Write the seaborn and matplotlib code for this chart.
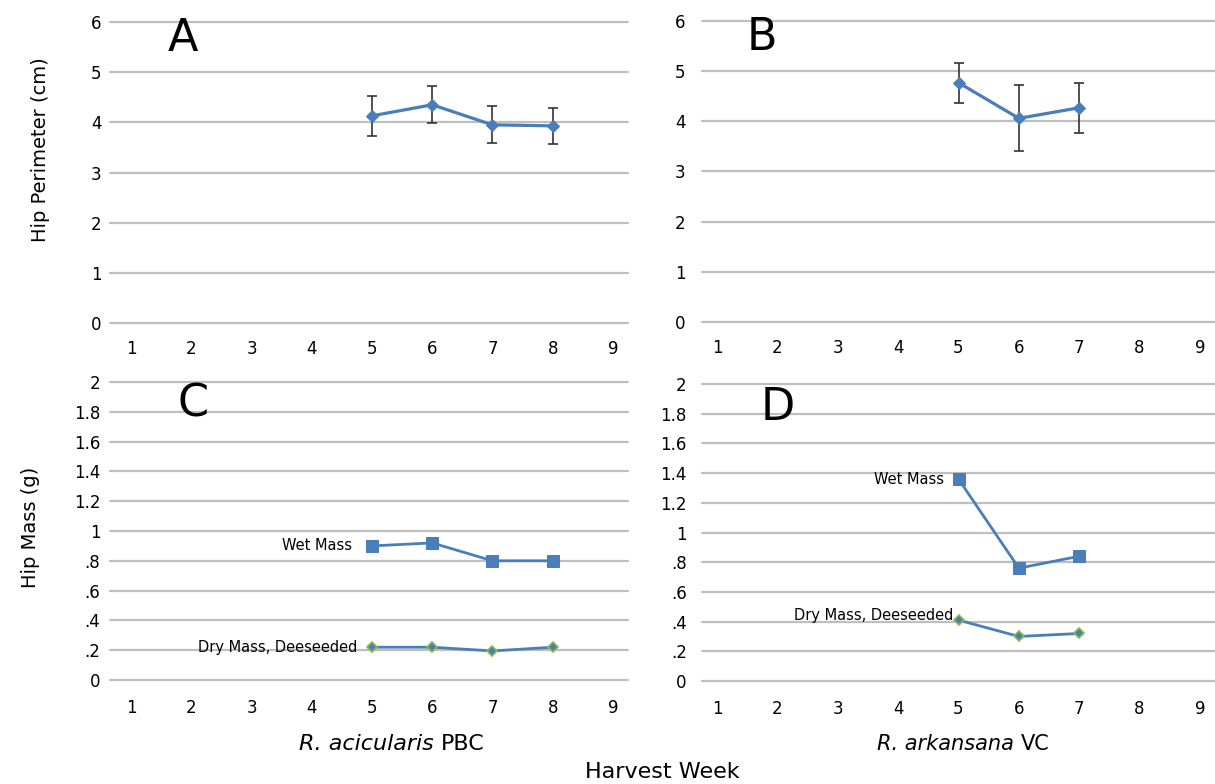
import matplotlib
matplotlib.use("Agg")
import matplotlib.pyplot as plt
import seaborn as sns
import pandas as pd

# datos
semanas_a = [5, 6, 7, 8]
perimetro_a = [4.13, 4.35, 3.95, 3.93]
error_a = [0.40, 0.37, 0.37, 0.36]

semanas_b = [5, 6, 7]
perimetro_b = [4.77, 4.06, 4.27]
error_b = [0.40, 0.66, 0.50]

semanas_c = [5, 6, 7, 8]
humeda_c = [0.90, 0.92, 0.80, 0.80]
seca_c = [0.22, 0.22, 0.195, 0.22]

semanas_d = [5, 6, 7]
humeda_d = [1.36, 0.76, 0.84]
seca_d = [0.41, 0.30, 0.32]

ticks_semana = list(range(1, 10))
ticks_perimetro = [0, 1, 2, 3, 4, 5, 6]
ticks_masa = [0, 0.2, 0.4, 0.6, 0.8, 1.0, 1.2, 1.4, 1.6, 1.8, 2.0]
etiquetas_masa = ["0", ".2", ".4", ".6", ".8", "1", "1.2", "1.4", "1.6", "1.8", "2"]

azul = "#4A7EBB"
verde = "#8DB84A"
gris = "#BFBFBF"

sns.set_theme(style="white")
plt.rcParams["font.family"] = ["DejaVu Sans"]
plt.rcParams["text.color"] = "black"

W, H = 1215, 784
fig = plt.figure(figsize=(W / 100, H / 100), dpi=100)


def caja(l, r, t, b):
    return [l / W, 1 - b / H, (r - l) / W, (b - t) / H]


def preparar(ax, xlim, ylim, yticks, ylabels, ypad, xpad):
    ax.set_xlim(*xlim)
    ax.set_ylim(*ylim)
    ax.set_xticks(ticks_semana)
    ax.set_xticklabels([str(t) for t in ticks_semana])
    ax.set_yticks(yticks)
    ax.set_yticklabels(ylabels)
    ax.grid(axis="y", color=gris, linewidth=1.6)
    ax.grid(axis="x", visible=False)
    for gl in ax.get_ygridlines():
        gl.set_clip_on(False)
    ax.tick_params(axis="both", length=0, labelsize=12, colors="black")
    ax.tick_params(axis="y", pad=ypad)
    ax.tick_params(axis="x", pad=xpad)
    for s in ax.spines.values():
        s.set_visible(False)
    ax.set_xlabel("")
    ax.set_ylabel("")


def titulo_especie(cx, cy, cursiva, normal, size):
    # parte en cursiva + parte normal, centradas juntas en cx
    r = fig.canvas.get_renderer()
    t1 = fig.text(0, cy / H, cursiva + " ", fontstyle="italic",
                  ha="left", va="center", fontsize=size)
    t2 = fig.text(0, cy / H, normal, ha="left", va="center", fontsize=size)
    w1 = t1.get_window_extent(r).width
    w2 = t2.get_window_extent(r).width
    x0 = cx - (w1 + w2) / 2
    t1.set_x(x0 / W)
    t2.set_x((x0 + w1) / W)


ax_a = fig.add_axes(caja(110, 628, 22, 323))
ax_b = fig.add_axes(caja(702, 1215, 21, 322))
ax_c = fig.add_axes(caja(110, 628, 382, 680))
ax_d = fig.add_axes(caja(702, 1215, 384, 681))

# paneles de perimetro
for ax, sem, val, err in [(ax_a, semanas_a, perimetro_a, error_a),
                          (ax_b, semanas_b, perimetro_b, error_b)]:
    df = pd.DataFrame({"semana": sem, "valor": val})
    ax.errorbar(sem, val, yerr=err, fmt="none", ecolor="#333333",
                elinewidth=1.2, capsize=3.5, capthick=1.2, zorder=3)
    sns.lineplot(data=df, x="semana", y="valor", ax=ax, color=azul,
                 linewidth=2.3, marker="D", markersize=6,
                 markeredgecolor=azul, zorder=4)

# paneles de masa
for ax, sem, hum, sec in [(ax_c, semanas_c, humeda_c, seca_c),
                          (ax_d, semanas_d, humeda_d, seca_d)]:
    df_h = pd.DataFrame({"semana": sem, "valor": hum})
    df_s = pd.DataFrame({"semana": sem, "valor": sec})
    sns.lineplot(data=df_h, x="semana", y="valor", ax=ax, color=azul,
                 linewidth=2.0, marker="s", markersize=8.5,
                 markeredgecolor=azul, zorder=4)
    sns.lineplot(data=df_s, x="semana", y="valor", ax=ax, color=azul,
                 linewidth=2.0, marker="D", markersize=5,
                 markeredgecolor=verde, markeredgewidth=1.2, zorder=4)

preparar(ax_a, (0.65, 9.25), (0, 6), ticks_perimetro,
         [str(t) for t in ticks_perimetro], 6, 12)
preparar(ax_b, (0.75, 9.25), (0, 6), ticks_perimetro,
         [str(t) for t in ticks_perimetro], 12, 12)
preparar(ax_c, (0.65, 9.25), (0, 2), ticks_masa, etiquetas_masa, 7, 14)
preparar(ax_d, (0.75, 9.25), (0, 2), ticks_masa, etiquetas_masa, 11, 14)

# letras de panel
for ax, letra, x, y in [(ax_a, "A", 1.86, 0.945), (ax_b, "B", 1.74, 0.945),
                        (ax_c, "C", 2.03, 0.925), (ax_d, "D", 2.01, 0.92)]:
    ax.text(x, y, letra, transform=ax.get_xaxis_transform(),
            fontsize=32, ha="center", va="center", color="black")

# etiquetas de series
ax_c.text(4.67, 0.906, "Wet Mass", ha="right", va="center", fontsize=10.5)
ax_c.text(4.75, 0.221, "Dry Mass, Deeseeded", ha="right", va="center", fontsize=10.5)
ax_d.text(4.76, 1.354, "Wet Mass", ha="right", va="center", fontsize=10.5)
ax_d.text(4.91, 0.444, "Dry Mass, Deeseeded", ha="right", va="center", fontsize=10.5)

# textos de ejes
fig.text(41 / W, 1 - 150 / H, "Hip Perimeter (cm)", rotation=90,
         ha="center", va="center", fontsize=14)
fig.text(31 / W, 1 - 527 / H, "Hip Mass (g)", rotation=90,
         ha="center", va="center", fontsize=14)
titulo_especie(392, H - 744, "R. acicularis", "PBC", 16)
titulo_especie(963, H - 744, "R. arkansana", "VC", 15)
fig.text(662 / W, 1 - 772 / H, "Harvest Week",
         ha="center", va="center", fontsize=16)

fig.savefig("out.png", dpi=100, facecolor="white")
